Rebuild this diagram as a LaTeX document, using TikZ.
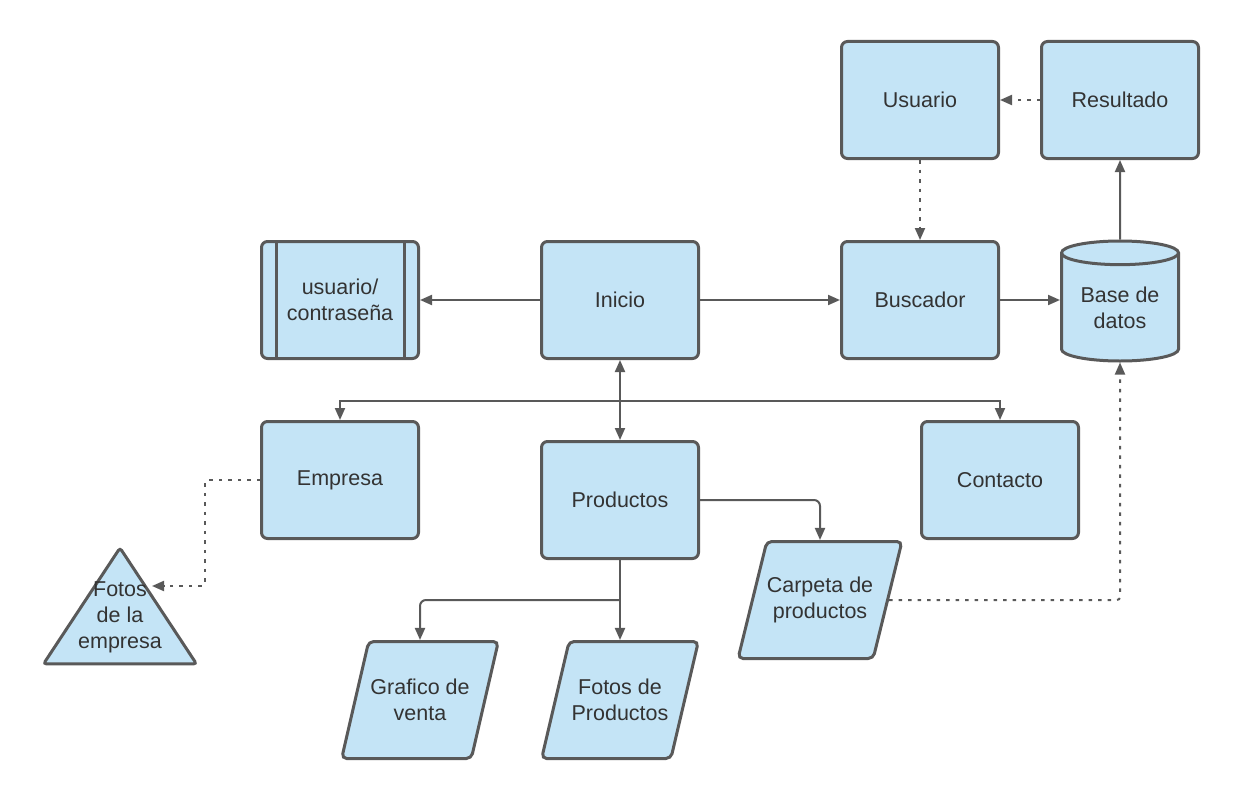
\documentclass[tikz,border=0pt]{standalone}
\usepackage{fontspec}
\setmainfont{Liberation Sans}
\usetikzlibrary{arrows.meta,shapes.geometric}
\definecolor{boxblue}{HTML}{C4E4F6}
\definecolor{edgegray}{HTML}{595959}
\definecolor{txtgray}{HTML}{333333}
\tikzset{
  blk/.style={draw=edgegray,fill=boxblue,line width=3pt,rounded corners=6pt,
    minimum width=157pt,minimum height=117pt,inner sep=0pt,align=center,
    text=txtgray,font=\fontsize{21.5}{26}\selectfont},
  datafile/.style={blk,trapezium,trapezium left angle=58,trapezium right angle=122,
    trapezium stretches,minimum width=157pt,rounded corners=5pt},
  flow/.style={draw=edgegray,line width=2pt,-{Triangle[length=12pt,width=10pt]}},
  dots/.style={flow,dash pattern=on 3.5pt off 6pt},
}

\begin{document}
\begin{tikzpicture}[x=1pt,y=-1pt]
\useasboundingbox (0,0) rectangle (1240,800);

% top row
\node[blk] (usr) at (920,100) {Usuario};
\node[blk] (res) at (1120,100) {Resultado};
% middle row
\node[blk] (uc) at (340,300) {usuario/\\contrase\~na};
\draw[edgegray,line width=3pt] ([xshift=16pt]uc.north west) -- ([xshift=16pt]uc.south west)
  ([xshift=-16pt]uc.north east) -- ([xshift=-16pt]uc.south east);
\node[blk] (ini) at (620,300) {Inicio};
\node[blk] (bus) at (920,300) {Buscador};
\node[blk,cylinder,shape border rotate=90,aspect=0.3,minimum width=117pt,
  minimum height=120pt,rounded corners=0pt,anchor=shape center] (bd) at (1120,301) {Base de\\datos};
% lower part
\node[blk] (emp) at (340,480) {Empresa};
\node[blk] (prod) at (620,500) {Productos};
\node[blk] (con) at (1000,480) {Contacto};
\node[blk,isosceles triangle,shape border rotate=90,isosceles triangle stretches,
  minimum width=153pt,minimum height=116pt,rounded corners=3pt,anchor=apex]
  (tri) at (120,544) {};
\node[blk,draw=none,fill=none,minimum size=0pt] (tritxt) at (120,617) {Fotos\\de la\\empresa};
\node[datafile] (carp) at (820,600) {Carpeta de\\productos};
\node[datafile] (graf) at (420,700) {Grafico de\\venta};
\node[datafile] (fprod) at (620,700) {Fotos de\\Productos};

\coordinate (hub) at (620,401);
\coordinate (split) at (620,600);
\coordinate (tripoint) at (152,586);

\draw[flow] (ini) -- (uc);
\draw[flow] (ini) -- (bus);
\draw[flow] (bus.east) -- (bus.east -| bd.west);
\draw[flow] (bd) -- (res);
\draw[dots] (res) -- (usr);
\draw[dots] (usr) -- (bus);
\draw[flow,{Triangle[length=12pt,width=10pt]}-{Triangle[length=12pt,width=10pt]}] (ini) -- (prod);
\draw[flow] (hub) -| (emp);
\draw[flow] (hub) -| (con);
\draw[flow,rounded corners=6pt] (prod) -| (carp);
\draw[flow] (prod) -- (fprod);
\draw[flow,rounded corners=6pt] (split) -| (graf);
\draw[dots,rounded corners=3pt] (emp) -- (205,480) |- (tripoint);
\draw[dots,rounded corners=3pt] (carp) -| (bd);
\end{tikzpicture}
\end{document}
